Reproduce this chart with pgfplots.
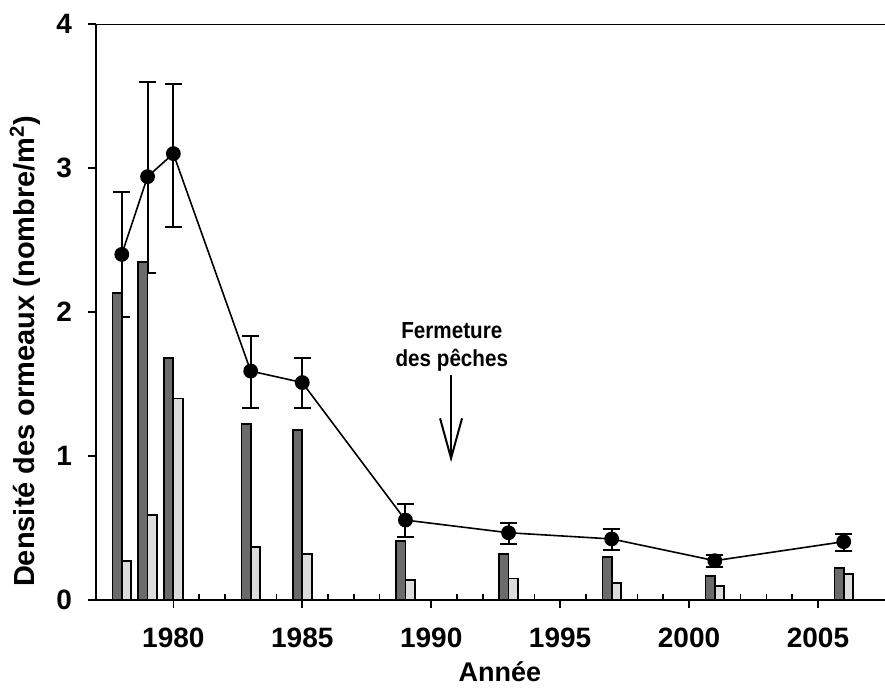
\documentclass[border=0pt]{standalone}
\usepackage{fontspec}
\setmainfont{Liberation Sans}
\newfontfamily\narrowfont{Liberation Sans}[FakeStretch=0.89]
\usepackage{pgfplots}
\usepackage{pgfplotstable}
\pgfplotsset{compat=1.18}
\usetikzlibrary{arrows.meta}
\definecolor{darkbar}{HTML}{6B6B6B}
\definecolor{lightbar}{HTML}{DCDCDC}

\pgfplotstableread{
year dark  light mean  ep    em
1978 2.13  0.27  2.40  0.43  0.435
1979 2.35  0.59  2.94  0.66  0.67
1980 1.68  1.40  3.10  0.48  0.51
1983 1.22  0.37  1.59  0.245 0.26
1985 1.18  0.32  1.51  0.17  0.18
1989 0.41  0.14  0.555 0.112 0.118
1993 0.32  0.15  0.467 0.068 0.077
1997 0.30  0.12  0.424 0.066 0.077
2001 0.165 0.097 0.273 0.04  0.042
2006 0.225 0.18  0.405 0.053 0.065
}\data

\begin{document}
\begin{tikzpicture}
\useasboundingbox (0,0) rectangle (442.5pt,343.5pt);
\begin{axis}[
  at={(48pt,43.5pt)}, anchor=south west,
  width=394.5pt, height=288pt, scale only axis,
  xmin=1977, xmax=2007.6, ymin=0, ymax=4,
  axis x line*=bottom, axis y line*=left,
  axis line style={line width=0.9pt, -},
  xtick={1980,1985,1990,1995,2000,2005}, minor x tick num=4,
  ytick={0,1,2,3,4},
  tick align=outside, major tick length=4pt, minor tick length=2.8pt,
  minor x tick style={yshift=2.8pt},
  tick style={line width=0.8pt, black},
  /pgf/number format/1000 sep={},
  /pgf/number format/assume math mode=true,
  tick label style={font=\bfseries\fontsize{14}{14}\selectfont},
  xticklabel style={yshift=-6.5pt},
  yticklabel style={xshift=-4.5pt},
  xlabel={Année},
  xlabel style={font=\bfseries\fontsize{13.5}{15}\selectfont, at={(axis description cs:0.512,0)}, anchor=north, yshift=-27.5pt},
  ylabel={Densité des ormeaux (nombre/m\textsuperscript{2})},
  ylabel style={font=\bfseries\fontsize{14.5}{16}\selectfont, at={(axis description cs:-0.09,0.432)}, anchor=center},
]
\addplot[black, line width=0.8pt, mark=*, mark size=3.3pt,
  error bars/.cd, y dir=both, y explicit,
  error bar style={line width=1pt},
  error mark options={rotate=90, line width=1pt, mark size=4.3pt}]
  table[x=year, y=mean, y error plus=ep, y error minus=em]{\data};
\addplot[ybar, bar width=0.36, bar shift=-0.18, fill=darkbar, draw=black, line width=0.9pt]
  table[x=year, y=dark]{\data};
\addplot[ybar, bar width=0.37, bar shift=0.185, fill=lightbar, draw=black, line width=0.9pt]
  table[x=year, y=light]{\data};
\draw[line width=0.9pt] (rel axis cs:0,1) -- (rel axis cs:1,1);
\node[font=\narrowfont\bfseries\fontsize{11.6}{14}\selectfont, align=center] at (axis cs:1990.8,1.76) {Fermeture\\des pêches};
\draw[line width=1pt, -{Straight Barb[length=20pt,width=11pt]}] (axis cs:1990.77,1.5625) -- (axis cs:1990.77,0.958);
\end{axis}
\end{tikzpicture}
\end{document}
